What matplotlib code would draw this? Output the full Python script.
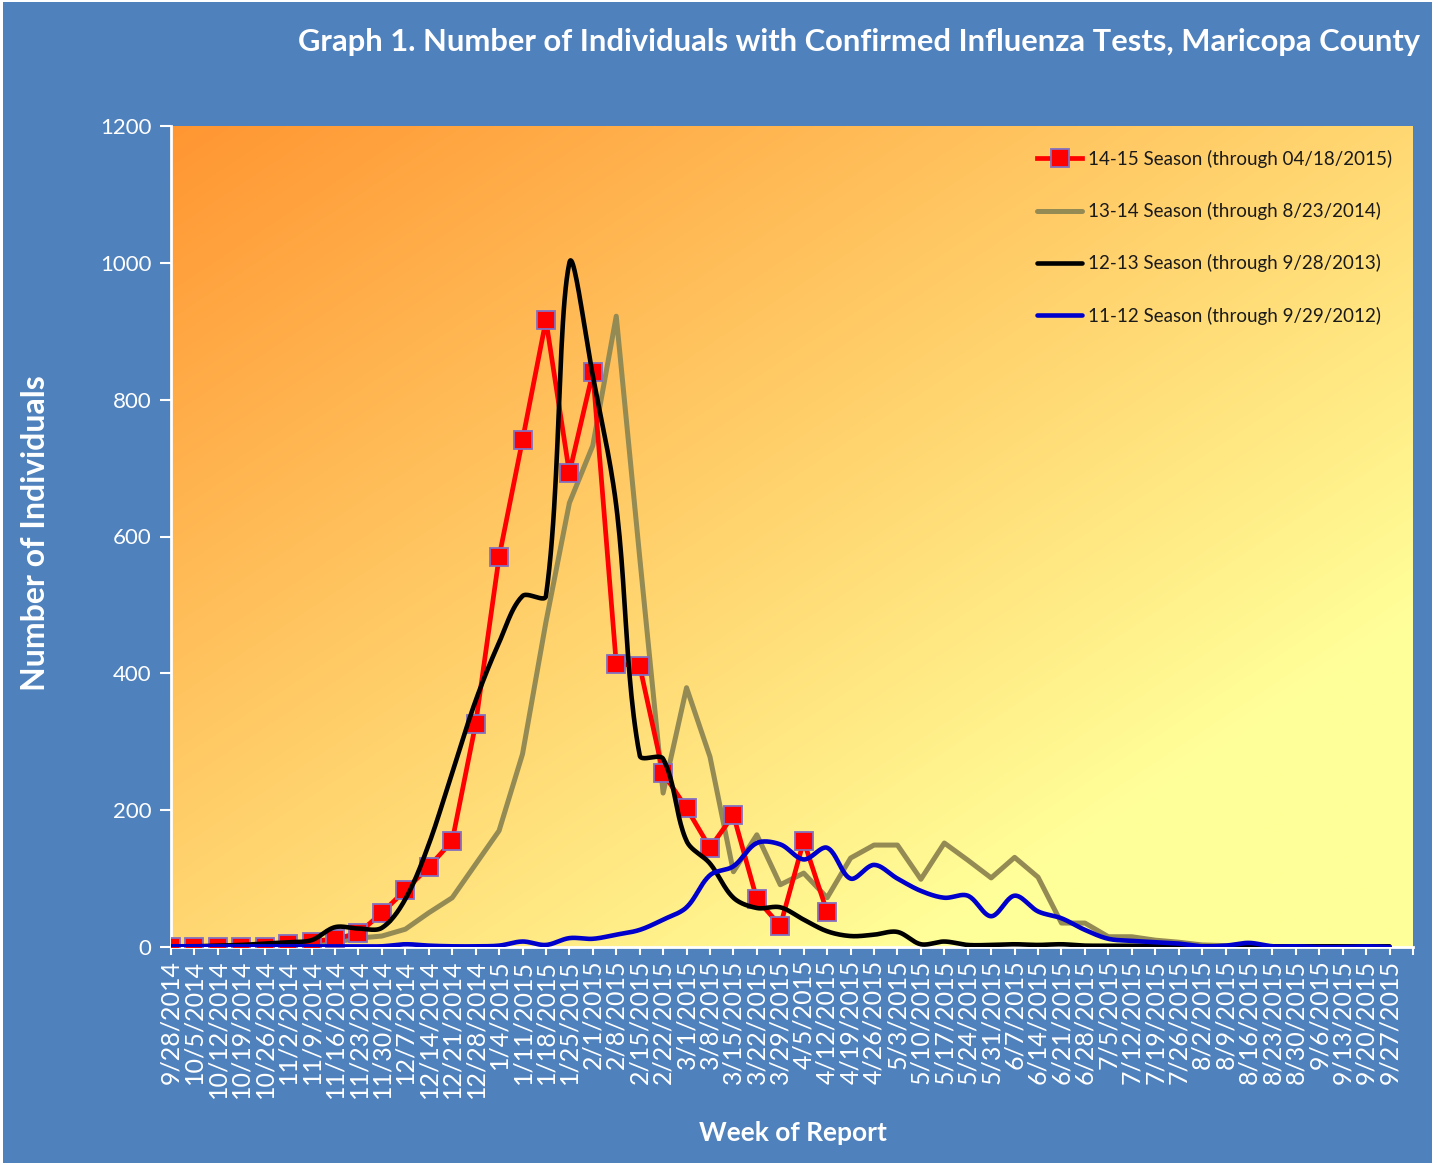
import numpy as np
import matplotlib
matplotlib.use("Agg")
from matplotlib import pyplot as plt
from matplotlib.patches import Rectangle

# weekly report dates (x categories)
weeks = ['9/28/2014', '10/5/2014', '10/12/2014', '10/19/2014', '10/26/2014', '11/2/2014',
         '11/9/2014', '11/16/2014', '11/23/2014', '11/30/2014', '12/7/2014', '12/14/2014',
         '12/21/2014', '12/28/2014', '1/4/2015', '1/11/2015', '1/18/2015', '1/25/2015',
         '2/1/2015', '2/8/2015', '2/15/2015', '2/22/2015', '3/1/2015', '3/8/2015',
         '3/15/2015', '3/22/2015', '3/29/2015', '4/5/2015', '4/12/2015', '4/19/2015',
         '4/26/2015', '5/3/2015', '5/10/2015', '5/17/2015', '5/24/2015', '5/31/2015',
         '6/7/2015', '6/14/2015', '6/21/2015', '6/28/2015', '7/5/2015', '7/12/2015',
         '7/19/2015', '7/26/2015', '8/2/2015', '8/9/2015', '8/16/2015', '8/23/2015',
         '8/30/2015', '9/6/2015', '9/13/2015', '9/20/2015', '9/27/2015']

# 14-15 season (through 04/18/2015)
season_1415 = [0, 0, 0, 0, 0, 5, 8, 12, 20, 50, 83, 117, 155, 326, 570, 741, 916, 693,
               840, 414, 411, 254, 203, 145, 193, 70, 31, 155, 51]

# 13-14 season (through 8/23/2014)
season_1314 = [0, 0, 1, 1, 2, 3, 4, 7, 13, 16, 26, 50, 72, 121, 170, 282, 475, 649,
               733, 922, 570, 225, 379, 278, 110, 164, 91, 108, 72, 130, 149, 149, 99,
               152, 127, 101, 131, 102, 35, 35, 15, 15, 10, 7, 3, 2, 1, 1]

# 12-13 season (through 9/28/2013)
season_1213 = [1, 1, 2, 3, 5, 7, 10, 29, 27, 28, 70, 150, 255, 360, 445, 513, 513, 1000,
               835, 645, 280, 275, 155, 122, 72, 57, 58, 40, 23, 16, 18, 22, 4, 8, 3, 3,
               4, 3, 4, 2, 2, 2, 2, 1, 1, 1, 1, 1, 1, 1, 1, 1, 1]

# 11-12 season (through 9/29/2012)
season_1112 = [1, 1, 1, 1, 1, 1, 1, 1, 1, 1, 4, 2, 1, 1, 2, 8, 3, 13, 12, 18, 25, 40,
               58, 105, 118, 152, 150, 128, 145, 100, 120, 100, 82, 72, 75, 45, 75, 52,
               42, 25, 12, 9, 7, 5, 1, 2, 6, 1, 1, 0, 0, 1, 0]

labels = ['14-15 Season (through 04/18/2015)', '13-14 Season (through 8/23/2014)',
          '12-13 Season (through 9/28/2013)', '11-12 Season (through 9/29/2012)']

BLUE_BG = '#4F81BD'
FONT = ['Lato', 'DejaVu Sans']

W, H = 1438, 1165
AX_L, AX_R, AX_T, AX_B = 171, 1413, 126, 947
YMAX = 1200


def smooth(xs, ys, n=24):
    # bezier "smoothed line" like excel; tangents are weighted by the
    # neighbouring segment lengths (in pixels) so short flat bits don't overshoot
    kx = (AX_R - AX_L) / len(weeks)
    ky = (AX_B - AX_T) / YMAX
    p = np.column_stack([np.asarray(xs, float) * kx, np.asarray(ys, float) * ky])
    seg = np.hypot(*np.diff(p, axis=0).T)
    cout = np.zeros_like(p)
    cin = np.zeros_like(p)
    for i in range(len(p)):
        if i == 0 or i == len(p) - 1:
            j = min(i, len(p) - 2)
            d = p[j + 1] - p[j]
            cout[i] = p[i] + d / 3
            cin[i] = p[i] - d / 3
            continue
        d = p[i + 1] - p[i - 1]
        l0, l1 = seg[i - 1], seg[i]
        tot = l0 + l1 if l0 + l1 > 0 else 1
        cout[i] = p[i] + d * l1 / tot / 3
        cin[i] = p[i] - d * l0 / tot / 3
    t = np.linspace(0, 1, n, endpoint=False)[:, None]
    pts = []
    for i in range(len(p) - 1):
        a, b, c, e = p[i], cout[i], cin[i + 1], p[i + 1]
        pts.append((1 - t) ** 3 * a + 3 * (1 - t) ** 2 * t * b + 3 * (1 - t) * t ** 2 * c + t ** 3 * e)
    pts.append(p[-1:])
    pts = np.vstack(pts)
    return pts[:, 0] / kx, pts[:, 1] / ky


plt.rcParams['font.family'] = FONT

fig = plt.figure(figsize=(W / 100, H / 100), dpi=100, facecolor='white')
fig.patches.append(Rectangle((3 / W, 2 / H), 1429 / W, 1161 / H, transform=fig.transFigure,
                             facecolor=BLUE_BG, edgecolor='none', zorder=-10))

ax = fig.add_axes([AX_L / W, 1 - AX_B / H, (AX_R - AX_L) / W, (AX_B - AX_T) / H])

# orange (top left) -> light yellow (bottom right) gradient in the plot area
gx, gy = np.meshgrid(np.linspace(0, 1, 300), np.linspace(0, 1, 300))
tt = np.clip((gx + gy) / 2 / 0.8, 0, 1)
c0 = np.array([255, 150, 50]) / 255
c1 = np.array([255, 255, 153]) / 255
grad = c0[None, None, :] + (c1 - c0)[None, None, :] * tt[..., None]
ax.imshow(grad, extent=(0, 1, 0, 1), origin='upper', transform=ax.transAxes,
          aspect='auto', zorder=0)

x_all = np.arange(len(weeks))

ax.plot(x_all[:len(season_1314)], season_1314, color='#948A54', lw=3.6,
        solid_joinstyle='round', solid_capstyle='round', zorder=2, label=labels[1])

ax.plot(x_all[:len(season_1415)], season_1415, color='#FF0000', lw=3.4, marker='s',
        markersize=13, markerfacecolor='#FF0000', markeredgecolor='#8470C0',
        markeredgewidth=1.3, solid_joinstyle='round', zorder=3, label=labels[0])

bx, by = smooth(x_all[:len(season_1213)], season_1213)
ax.plot(bx, by, color='black', lw=3.3, solid_capstyle='round', zorder=4, label=labels[2])

ux, uy = smooth(x_all[:len(season_1112)], season_1112)
ax.plot(ux, uy, color='#0000CC', lw=3.3, solid_capstyle='round', zorder=5, label=labels[3])

ax.set_xlim(0, len(weeks))
ax.set_ylim(0, YMAX)
ax.set_yticks(np.arange(0, YMAX + 1, 200))
ax.set_xticks(np.arange(len(weeks) + 1))
ax.set_xticklabels(weeks + [''], rotation=90, fontsize=18, color='white')
ax.tick_params(axis='y', colors='white', labelsize=16, length=8, width=1.5, pad=6)
ax.tick_params(axis='x', colors='white', length=6, width=1.5, pad=3)
for lab in ax.get_xticklabels():
    lab.set_verticalalignment('top')

for side in ('top', 'right'):
    ax.spines[side].set_visible(False)
for side in ('left', 'bottom'):
    ax.spines[side].set_color('white')
    ax.spines[side].set_linewidth(2)

fig.text(1420 / W, 1 - 42 / H,
         'Graph 1. Number of Individuals with Confirmed Influenza Tests, Maricopa County',
         ha='right', va='center', color='white', fontsize=22.2, fontweight='bold')
fig.text(36 / W, 1 - 533 / H, 'Number of Individuals', rotation=90, ha='center',
         va='center', color='white', fontsize=23, fontweight='bold')
fig.text(793 / W, 1 - 1133 / H, 'Week of Report', ha='center', va='center',
         color='white', fontsize=19, fontweight='bold')

handles, labs = ax.get_legend_handles_labels()
order = [labs.index(l) for l in labels]
leg = ax.legend([handles[i] for i in order], [labs[i] for i in order],
                loc='upper left', bbox_to_anchor=(1037 / W, 1 - 150 / H),
                bbox_transform=fig.transFigure, frameon=False, fontsize=13.5,
                handlelength=2.4, handletextpad=0.3, labelspacing=1.82,
                borderpad=0, borderaxespad=0, numpoints=1)
for t in leg.get_texts():
    t.set_color('#1a1a1a')

fig.savefig('out.png', dpi=100, facecolor=fig.get_facecolor())
